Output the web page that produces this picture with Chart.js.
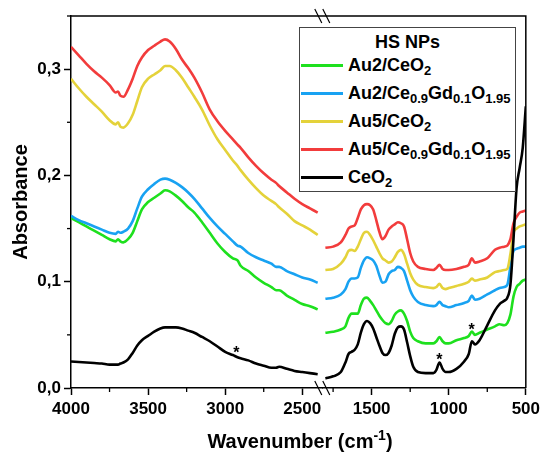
<!DOCTYPE html>
<html>
<head>
<meta charset="utf-8">
<script src="https://cdn.jsdelivr.net/npm/chart.js@4/dist/chart.umd.min.js"></script>
<style>
html,body{margin:0;padding:0;background:#fff;}
#wrap{position:relative;width:544px;height:452px;font-family:"Liberation Sans",Arial,sans-serif;font-weight:bold;color:#000;}
#c{position:absolute;left:0;top:0;}
#legend{position:absolute;left:299px;top:27px;width:217px;height:165px;border:1px solid #444;background:#fff;box-sizing:border-box;}
#legend .ttl{position:absolute;left:0;width:100%;top:2px;height:24px;line-height:24px;text-align:center;font-size:18px;}
#legend .row{position:absolute;left:0;height:24px;line-height:24px;font-size:18px;white-space:nowrap;}
#legend .sw{position:absolute;left:1px;width:42px;height:3px;top:11px;}
#legend .tx{position:absolute;left:48px;top:0;}
sub{font-size:13px;vertical-align:-4px;line-height:0;}
sup{font-size:14px;vertical-align:8px;line-height:0;}
#xtitle{position:absolute;left:100px;width:400px;top:429px;height:24px;line-height:24px;text-align:center;font-size:20px;}
</style>
</head>
<body>
<div id="wrap">
<canvas id="c" width="544" height="452"></canvas>
<div id="legend"><div class="ttl">HS NPs</div></div>
<div id="xtitle">Wavenumber (cm<sup>-1</sup>)</div>
</div>
<script>
// ---------- DATA ----------
const leftWavenumber = [4000,3950,3900,3850,3800,3750,3710,3695,3680,3660,3630,3600,3570,3540,3500,3460,3420,3390,3360,3320,3280,3240,3200,3150,3100,3050,3000,2950,2920,2900,2850,2800,2750,2700,2670,2650,2600,2550,2500,2450,2400];
const rightWavenumber = [1800,1750,1700,1670,1650,1630,1610,1590,1570,1550,1530,1510,1490,1470,1450,1430,1410,1390,1370,1350,1330,1310,1290,1270,1250,1230,1200,1150,1100,1080,1060,1040,1020,1000,950,900,870,850,830,800,750,700,670,640,620,600,580,560,540,520,500];

const au2CeO2Left = [.160,.156,.152,.148,.144,.140,.138,.140,.138,.137,.140,.146,.157,.168,.175,.179,.183,.186,.185,.181,.176,.170,.165,.156,.146,.136,.128,.122,.120,.115,.110,.104,.099,.095,.092,.092,.087,.083,.079,.077,.074];
const au2CeO2Right = [.052,.053,.055,.058,.066,.070,.070,.070,.078,.084,.085,.082,.078,.073,.068,.064,.061,.060,.063,.069,.072,.073,.070,.063,.053,.047,.044,.042,.042,.044,.048,.044,.042,.042,.045,.047,.049,.053,.050,.052,.055,.058,.060,.059,.061,.069,.086,.095,.098,.101,.102];

const au2CeGdLeft = [.162,.158,.155,.152,.149,.146,.145,.147,.146,.147,.150,.157,.169,.180,.187,.192,.196,.197,.196,.193,.189,.184,.178,.169,.160,.152,.145,.138,.134,.133,.127,.123,.120,.117,.114,.114,.110,.107,.104,.102,.099];
const au2CeGdRight = [.084,.085,.088,.093,.100,.103,.103,.104,.113,.120,.123,.122,.120,.115,.106,.099,.100,.107,.110,.111,.114,.113,.110,.101,.092,.086,.081,.078,.077,.078,.081,.078,.077,.076,.078,.080,.082,.087,.083,.084,.088,.092,.094,.095,.097,.114,.129,.131,.132,.133,.133];

const au5CeO2Left = [.291,.282,.274,.267,.260,.252,.248,.250,.246,.245,.249,.257,.270,.283,.291,.295,.299,.303,.303,.299,.292,.283,.274,.262,.247,.234,.224,.214,.209,.205,.196,.188,.181,.176,.173,.170,.164,.157,.153,.149,.144];
const au5CeO2Right = [.111,.112,.117,.123,.129,.130,.129,.133,.140,.146,.147,.144,.139,.133,.127,.122,.120,.118,.119,.123,.128,.130,.126,.117,.108,.102,.097,.095,.094,.095,.098,.094,.093,.094,.096,.098,.100,.103,.101,.102,.104,.109,.110,.111,.112,.126,.146,.150,.152,.153,.154];

const au5CeGdLeft = [.321,.313,.305,.298,.292,.285,.278,.279,.275,.274,.281,.291,.303,.311,.318,.322,.326,.328,.326,.319,.309,.301,.292,.278,.262,.251,.242,.234,.229,.226,.217,.209,.202,.196,.193,.190,.184,.178,.173,.169,.165];
const au5CeGdRight = [.132,.133,.137,.144,.150,.152,.153,.160,.168,.172,.173,.172,.168,.158,.147,.140,.143,.149,.152,.154,.156,.155,.152,.140,.127,.119,.114,.112,.111,.113,.116,.112,.111,.111,.112,.114,.116,.122,.118,.119,.122,.130,.132,.133,.134,.140,.155,.161,.165,.166,.167];

const ceO2Left = [.025,.0245,.024,.0235,.023,.022,.022,.022,.023,.024,.027,.033,.040,.045,.049,.053,.056,.057,.057,.057,.056,.054,.052,.048,.044,.039,.034,.031,.029,.028,.026,.023,.021,.019,.019,.020,.018,.016,.015,.014,.013];
const ceO2Right = [.009,.011,.015,.024,.032,.034,.036,.041,.052,.060,.063,.061,.056,.048,.040,.033,.031,.033,.040,.051,.057,.058,.055,.043,.030,.020,.015,.014,.014,.017,.024,.018,.015,.015,.018,.025,.032,.044,.041,.045,.059,.073,.079,.082,.085,.097,.140,.188,.207,.226,.265];

const seriesLabels = ['Au2/CeO<sub>2</sub>','Au2/Ce<sub>0.9</sub>Gd<sub>0.1</sub>O<sub>1.95</sub>','Au5/CeO<sub>2</sub>','Au5/Ce<sub>0.9</sub>Gd<sub>0.1</sub>O<sub>1.95</sub>','CeO<sub>2</sub>'];
const seriesColors = ['#1ee01e','#18a2f2','#e4d23a','#f23c3c','#000000'];
const seriesLeft = [au2CeO2Left, au2CeGdLeft, au5CeO2Left, au5CeGdLeft, ceO2Left];
const seriesRight = [au2CeO2Right, au2CeGdRight, au5CeO2Right, au5CeGdRight, ceO2Right];

const leftTicks = [4000,3750,3500,3250,3000,2750,2500];
const rightTicks = [1750,1500,1250,1000,750,500];
const yTicks = [0,0.05,0.1,0.15,0.2,0.25,0.3,0.35];

const asteriskWavenumber = [2927,1060,851];
const asteriskAbsorbance = [0.037,0.030,0.058];
const asteriskAxis = ['x1','x2','x2'];

// ---------- BUILD ----------
function pts(xs, ys){ return xs.map((x,i)=>({x:x, y:ys[i]})); }
const datasets = [];
const drawOrder = [4,3,2,1,0];
seriesLeft.forEach((s,i)=>{
  datasets.push({data:pts(leftWavenumber,s), xAxisID:'x1', borderColor:seriesColors[i], order:drawOrder[i]});
  datasets.push({data:pts(rightWavenumber,seriesRight[i]), xAxisID:'x2', borderColor:seriesColors[i], order:drawOrder[i]});
});

const legend = document.getElementById('legend');
seriesLabels.forEach((lab,i)=>{
  const r = document.createElement('div');
  r.className='row';
  r.style.top = (24.5 + 28*i) + 'px';
  r.innerHTML = '<div class="sw" style="background:'+seriesColors[i]+'"></div><div class="tx">'+lab+'</div>';
  legend.appendChild(r);
});

const tickFont = {family:'"Liberation Sans", Arial, sans-serif', size:17, weight:'bold'};
const isMajorX = v => v % 500 === 0;
const isMajorY = v => Math.abs(v*10 - Math.round(v*10)) < 1e-6;

function xScale(min,max,weight,ticks){
  return {
    type:'linear', position:'bottom', stack:'wn', stackWeight:weight,
    min:min, max:max, reverse:true, offset:false,
    afterBuildTicks: s => { s.ticks = ticks.map(v=>({value:v})); },
    afterFit: s => { s.height = 64; },
    ticks:{ autoSkip:false, maxRotation:0, minRotation:0, color:'#000', font:tickFont, padding:4,
      callback: v => isMajorX(v) ? String(v) : '' },
    grid:{ drawOnChartArea:false, tickLength:7, tickWidth:1.5,
      tickColor: ctx => (ctx.tick && isMajorX(ctx.tick.value)) ? '#000' : 'rgba(0,0,0,0)' },
    border:{ display:true, color:'#000', width:1.5 }
  };
}

const framePlugin = {
  id:'frame',
  afterDraw(chart){
    const c = chart.ctx, a = chart.chartArea;
    c.save();
    c.strokeStyle = '#000';
    c.lineWidth = 1.5;
    c.beginPath();
    c.moveTo(a.left, a.top); c.lineTo(a.right, a.top); c.lineTo(a.right, a.bottom);
    c.stroke();
    // minor ticks
    c.lineWidth = 1.3;
    ['x1','x2'].forEach(id=>{
      const s = chart.scales[id];
      s.ticks.forEach(t=>{
        if(!isMajorX(t.value)){
          const px = s.getPixelForValue(t.value);
          c.beginPath(); c.moveTo(px, a.bottom); c.lineTo(px, a.bottom+4); c.stroke();
        }
      });
    });
    const ys = chart.scales.y;
    ys.ticks.forEach(t=>{
      if(!isMajorY(t.value)){
        const py = ys.getPixelForValue(t.value);
        c.beginPath(); c.moveTo(a.left-4, py); c.lineTo(a.left, py); c.stroke();
      }
    });
    // break marks
    const bx = chart.scales.x1.right;
    c.lineWidth = 1.2;
    [a.top, a.bottom].forEach(by=>{
      [-4,4].forEach(dx=>{
        c.beginPath();
        c.moveTo(bx+dx-3.5, by-7); c.lineTo(bx+dx+3.5, by+7); c.stroke();
      });
    });
    // asterisks
    c.fillStyle = '#000';
    c.font = 'bold 16px "Liberation Sans", Arial, sans-serif';
    c.textAlign = 'center';
    c.textBaseline = 'alphabetic';
    asteriskWavenumber.forEach((w,i)=>{
      const px = chart.scales[asteriskAxis[i]].getPixelForValue(w);
      const py = ys.getPixelForValue(asteriskAbsorbance[i]);
      c.fillText('*', px, py + 9);
    });
    c.restore();
  }
};

new Chart(document.getElementById('c'), {
  type:'line',
  data:{ datasets: datasets },
  options:{
    responsive:false, animation:false, devicePixelRatio:1,
    layout:{ padding:{ top:16, right:15, left:0, bottom:0 } },
    elements:{ point:{ radius:0 }, line:{ borderWidth:2.6, cubicInterpolationMode:'monotone', fill:false } },
    plugins:{ legend:{ display:false }, tooltip:{ enabled:false } },
    scales:{
      x1: xScale(2370, 4000, 1630, leftTicks),
      x2: xScale(500, 1820, 1320, rightTicks),
      y:{
        type:'linear', position:'left', min:0, max:0.35,
        afterBuildTicks: s => { s.ticks = yTicks.map(v=>({value:v})); },
        afterFit: s => { s.width = 71; },
        ticks:{ color:'#000', font:tickFont, padding:3,
          callback: v => isMajorY(v) ? v.toFixed(1).replace('.', ',') : '' },
        grid:{ drawOnChartArea:false, tickLength:7, tickWidth:1.5,
          tickColor: ctx => (ctx.tick && isMajorY(ctx.tick.value)) ? '#000' : 'rgba(0,0,0,0)' },
        border:{ display:true, color:'#000', width:1.5 },
        title:{ display:true, text:'Absorbance', color:'#000', padding:{top:9,bottom:0},
          font:{ family:'"Liberation Sans", Arial, sans-serif', size:20, weight:'bold' } }
      }
    }
  },
  plugins:[framePlugin]
});
</script>
</body>
</html>
